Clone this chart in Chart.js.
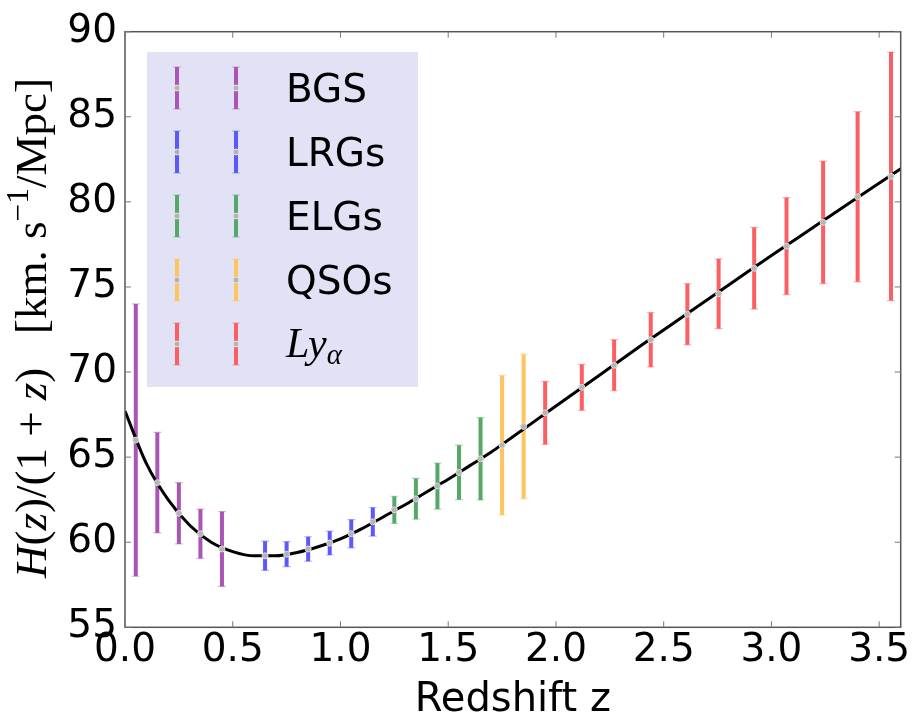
<!DOCTYPE html>
<html>
<head>
<meta charset="utf-8">
<script src="https://cdn.jsdelivr.net/npm/chart.js@4.4.1/dist/chart.umd.min.js"></script>
<style>
  body { margin: 0; background: #fff; }
</style>
</head>
<body>
<canvas id="hubble" width="913" height="718"></canvas>
<script>
// values: redshift, H(z)/(1+z), half error
const bgsZ = [0.05, 0.15, 0.25, 0.35, 0.45]
const bgsH = [66.0, 63.5, 61.7, 60.5, 59.6]
const bgsErr = [8.0, 2.95, 1.8, 1.45, 2.2]

const lrgZ = [0.65, 0.75, 0.85, 0.95, 1.05, 1.15]
const lrgH = [59.2, 59.3, 59.6, 59.95, 60.5, 61.2]
const lrgErr = [0.86, 0.74, 0.72, 0.7, 0.83, 0.84]

const elgZ = [1.25, 1.35, 1.45, 1.55, 1.65]
const elgH = [61.9, 62.55, 63.3, 64.1, 64.9]
const elgErr = [0.8, 1.2, 1.35, 1.6, 2.42]

const qsoZ = [1.75, 1.85]
const qsoH = [65.7, 66.8]
const qsoErr = [4.1, 4.25]

const lyaZ = [1.95, 2.12, 2.27, 2.44, 2.61, 2.755, 2.92, 3.07, 3.24, 3.40, 3.555]
const lyaH = [67.6, 69.1, 70.4, 71.9, 73.4, 74.6, 76.1, 77.4, 78.8, 80.3, 81.5]
const lyaErr = [1.85, 1.35, 1.5, 1.6, 1.8, 2.05, 2.4, 2.85, 3.6, 5.0, 7.3]

const curveZ = [0.0, 0.1, 0.2, 0.3, 0.4, 0.5, 0.6, 0.7, 0.8, 0.9, 1.0, 1.1, 1.2, 1.3, 1.4, 1.5,
  1.6, 1.7, 1.8, 1.9, 2.0, 2.2, 2.4, 2.6, 2.8, 3.0, 3.2, 3.4, 3.6]
const curveH = [67.7, 64.6, 62.5, 61.0, 60.0, 59.45, 59.2, 59.2, 59.4, 59.75, 60.2, 60.8, 61.5, 62.2,
  62.95, 63.7, 64.5, 65.3, 66.2, 67.1, 68.0, 69.8, 71.6, 73.35, 75.1, 76.85, 78.55, 80.25, 81.95]

const surveyNames = ['BGS', 'LRGs', 'ELGs', 'QSOs', 'Lyα']
const surveyColors = ['#aa55b4', '#5a5afa', '#55a865', '#fec45f', '#fa5f64']

const xTicks = [0.0, 0.5, 1.0, 1.5, 2.0, 2.5, 3.0, 3.5]
const yTicks = [55, 60, 65, 70, 75, 80, 85, 90]

const surveys = [
  {z: bgsZ, h: bgsH, err: bgsErr},
  {z: lrgZ, h: lrgH, err: lrgErr},
  {z: elgZ, h: elgH, err: elgErr},
  {z: qsoZ, h: qsoH, err: qsoErr},
  {z: lyaZ, h: lyaH, err: lyaErr},
]
surveys.forEach((s, i) => { s.name = surveyNames[i]; s.color = surveyColors[i] })

const sans = "'DejaVu Sans', sans-serif"
const serif = "'Liberation Serif', serif"

function drawErrorBar(ctx, px, top, bot, color) {
  ctx.strokeStyle = color
  ctx.lineWidth = 4
  ctx.beginPath()
  ctx.moveTo(px, top)
  ctx.lineTo(px, bot)
  ctx.stroke()
  // caps are faint in the original
  ctx.globalAlpha = 0.45
  ctx.lineWidth = 1.2
  ctx.beginPath()
  ctx.moveTo(px - 4, top)
  ctx.lineTo(px + 4, top)
  ctx.moveTo(px - 4, bot)
  ctx.lineTo(px + 4, bot)
  ctx.stroke()
  ctx.globalAlpha = 1
}

const errorBars = {
  id: 'errorBars',
  beforeDatasetsDraw(chart) {
    const {ctx, scales: {x, y}} = chart
    ctx.save()
    surveys.forEach(s => {
      s.z.forEach((z, i) => {
        const px = x.getPixelForValue(z)
        drawErrorBar(ctx, px, y.getPixelForValue(s.h[i] + s.err[i]), y.getPixelForValue(s.h[i] - s.err[i]), s.color)
      })
    })
    ctx.restore()
  }
}

// frame, inward ticks, axis titles and the legend box
const decorations = {
  id: 'decorations',
  afterDraw(chart) {
    const {ctx, chartArea: a, scales: {x, y}} = chart
    ctx.save()
    ctx.strokeStyle = '#555'
    ctx.lineWidth = 1.5
    ctx.strokeRect(a.left, a.top, a.right - a.left, a.bottom - a.top)
    ctx.lineWidth = 1
    ctx.strokeStyle = '#777'
    ctx.beginPath()
    xTicks.forEach(v => {
      const px = x.getPixelForValue(v)
      ctx.moveTo(px, a.bottom); ctx.lineTo(px, a.bottom - 6)
      ctx.moveTo(px, a.top); ctx.lineTo(px, a.top + 6)
    })
    yTicks.forEach(v => {
      const py = y.getPixelForValue(v)
      ctx.moveTo(a.left, py); ctx.lineTo(a.left + 6, py)
      ctx.moveTo(a.right, py); ctx.lineTo(a.right - 6, py)
    })
    ctx.stroke()

    // x title
    ctx.fillStyle = '#000'
    ctx.font = '40px ' + sans
    ctx.textAlign = 'center'
    ctx.textBaseline = 'alphabetic'
    ctx.fillText('Redshift z', (a.left + a.right) / 2, 711)

    // y title, mixed italic / upright like the TeX original
    const segs = [
      ['H', 'italic '], ['(', ''], ['z', 'italic '], [')/(1 + ', ''], ['z', 'italic '], [')', ''],
      ['   [km. s', ''], ['−1', 'sup'], ['/Mpc]', '']
    ]
    const fs = 45
    const fontOf = st => st === 'sup' ? (fs * 0.7) + 'px ' + serif : st + fs + 'px ' + serif
    let total = 0
    segs.forEach(([t, st]) => { ctx.font = fontOf(st); total += ctx.measureText(t).width })
    ctx.translate(46, 328)
    ctx.rotate(-Math.PI / 2)
    ctx.textAlign = 'left'
    let cx = -total / 2
    segs.forEach(([t, st]) => {
      ctx.font = fontOf(st)
      ctx.fillText(t, cx, st === 'sup' ? -fs * 0.4 : 0)
      cx += ctx.measureText(t).width
    })
    ctx.setTransform(1, 0, 0, 1, 0, 0)

    // legend
    ctx.fillStyle = 'rgb(226, 226, 246)'
    ctx.fillRect(147, 52, 271, 335)
    surveys.forEach((s, i) => {
      const cy = 88 + i * 64
      ;[177, 236].forEach(gx => {
        drawErrorBar(ctx, gx, cy - 21, cy + 21, s.color)
        ctx.beginPath()
        ctx.arc(gx, cy, 3, 0, Math.PI * 2)
        ctx.fillStyle = '#b4b4b4'
        ctx.fill()
        ctx.strokeStyle = '#e6e6e6'
        ctx.lineWidth = 1
        ctx.stroke()
      })
      ctx.fillStyle = '#000'
      if (s.name === 'Lyα') {
        ctx.font = 'italic 42px ' + serif
        ctx.fillText('Ly', 286, cy + 13)
        const w = ctx.measureText('Ly').width
        ctx.font = 'italic 29px ' + serif
        ctx.fillText('α', 286 + w, cy + 20)
      } else {
        ctx.font = '39px ' + sans
        ctx.fillText(s.name, 286, cy + 14)
      }
    })
    ctx.restore()
  }
}

const datasets = [{
  label: 'fiducial',
  data: curveZ.map((z, i) => ({x: z, y: curveH[i]})),
  showLine: true,
  borderColor: '#000',
  borderWidth: 3,
  pointRadius: 0,
  cubicInterpolationMode: 'monotone',
  order: 2
}]
surveys.forEach(s => {
  datasets.push({
    label: s.name,
    data: s.z.map((z, i) => ({x: z, y: s.h[i]})),
    showLine: false,
    pointRadius: 3,
    pointBackgroundColor: '#b4b4b4',
    pointBorderColor: '#dcdcdc',
    pointBorderWidth: 1,
    order: 1
  })
})

new Chart(document.getElementById('hubble'), {
  type: 'scatter',
  data: {datasets: datasets},
  plugins: [errorBars, decorations],
  options: {
    responsive: false,
    animation: false,
    layout: {padding: {top: 31.7, right: 12.3, left: 0, bottom: 0}},
    plugins: {legend: {display: false}, tooltip: {enabled: false}},
    scales: {
      x: {
        type: 'linear',
        min: 0,
        max: 3.6,
        afterFit: scale => { scale.height = 90.7 },
        grid: {display: false, drawTicks: false},
        border: {display: false},
        ticks: {
          stepSize: 0.5,
          includeBounds: false,
          padding: 0,
          color: '#000',
          font: {family: sans, size: 39},
          callback: v => v.toFixed(1)
        }
      },
      y: {
        min: 55,
        max: 90,
        afterFit: scale => { scale.width = 125 },
        grid: {display: false, drawTicks: false},
        border: {display: false},
        ticks: {
          stepSize: 5,
          padding: 8,
          color: '#000',
          font: {family: sans, size: 39}
        }
      }
    }
  }
});
</script>
</body>
</html>
